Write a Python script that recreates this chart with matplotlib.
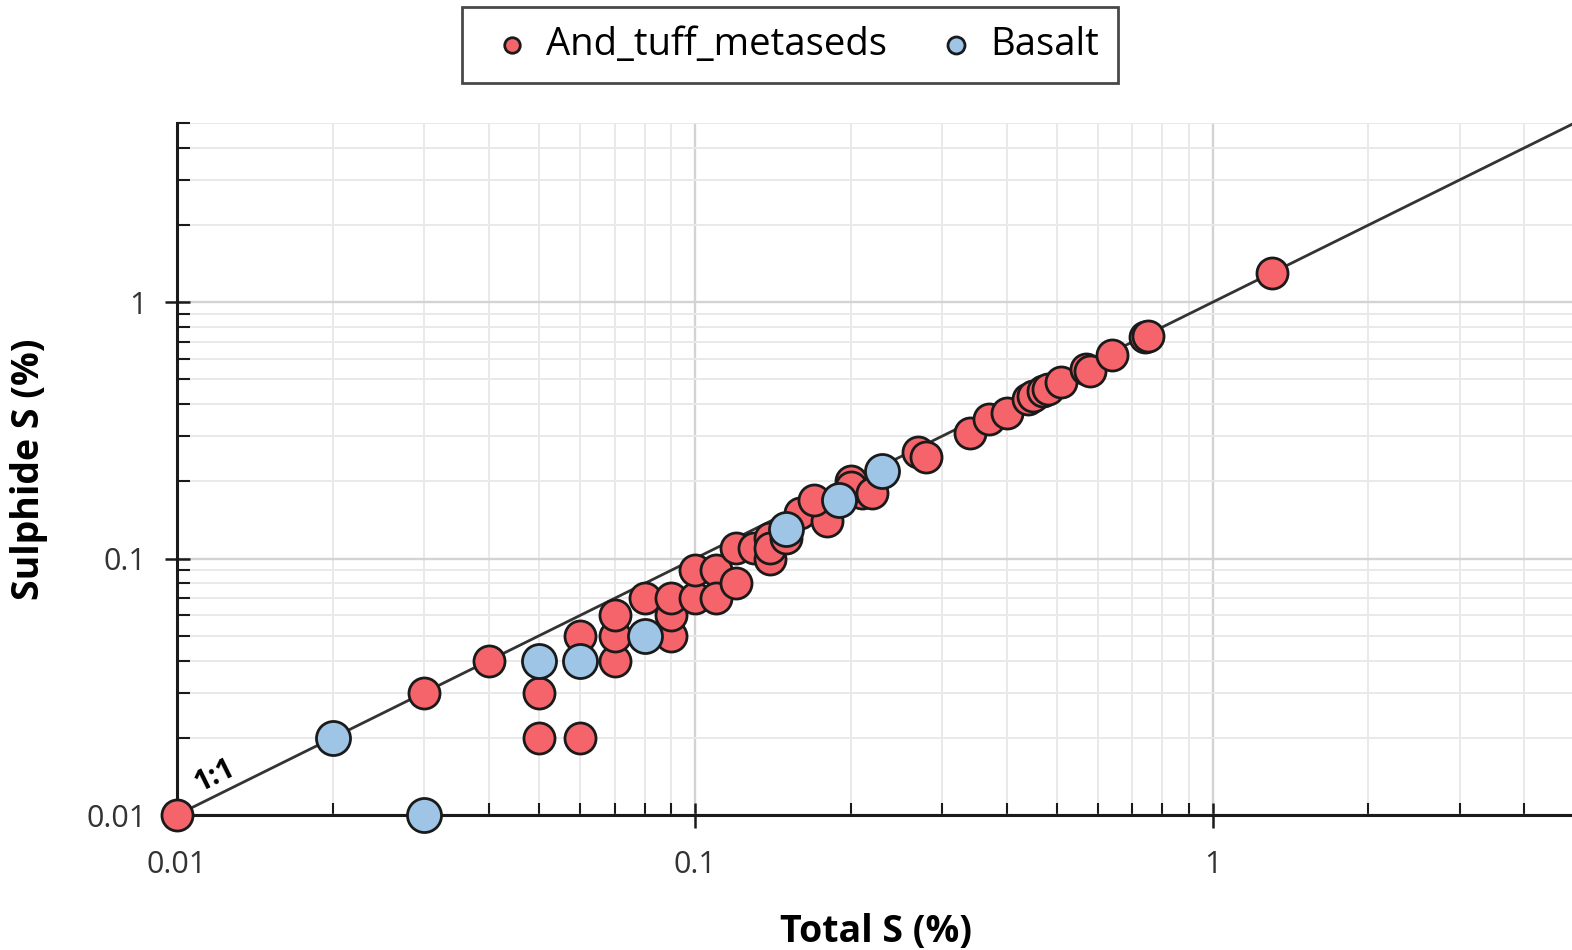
import matplotlib
matplotlib.use('Agg')
import matplotlib.pyplot as plt
from matplotlib.ticker import LogLocator, FixedLocator, FixedFormatter, NullFormatter

plt.rcParams['font.family'] = ['Open Sans', 'DejaVu Sans']

# And_tuff_metaseds: total S vs sulphide S (%)
tuff_total = [0.01, 0.03, 0.04, 0.05, 0.05, 0.06, 0.06, 0.07, 0.07, 0.07,
              0.08, 0.09, 0.09, 0.09, 0.10, 0.10, 0.11, 0.11, 0.12, 0.12,
              0.13, 0.14, 0.14, 0.14, 0.15, 0.16, 0.18, 0.17, 0.20, 0.21,
              0.20, 0.22, 0.27, 0.28, 0.34, 0.37, 0.40, 0.44, 0.45, 0.47,
              0.48, 0.51, 0.57, 0.58, 0.64, 0.74, 0.75, 1.30]
tuff_sulph = [0.01, 0.03, 0.04, 0.03, 0.02, 0.02, 0.05, 0.04, 0.05, 0.06,
              0.07, 0.05, 0.06, 0.07, 0.07, 0.09, 0.09, 0.07, 0.08, 0.11,
              0.11, 0.12, 0.10, 0.11, 0.12, 0.15, 0.14, 0.17, 0.20, 0.18,
              0.19, 0.18, 0.26, 0.25, 0.31, 0.35, 0.37, 0.42, 0.43, 0.45,
              0.46, 0.49, 0.55, 0.54, 0.62, 0.73, 0.74, 1.30]

# Basalt
bas_total = [0.02, 0.03, 0.05, 0.06, 0.08, 0.15, 0.19, 0.23]
bas_sulph = [0.02, 0.01, 0.04, 0.04, 0.05, 0.13, 0.17, 0.22]

ref_line = [0.01, 5]
major_ticks = [0.01, 0.1, 1]
major_labels = ['0.01', '0.1', '1']

red = '#f5646a'
blue = '#9ec4e6'

fig = plt.figure(figsize=(15.72, 9.5), dpi=100)
ax = fig.add_axes([0.1126, 0.1421, 0.889, 0.7284])
ax.set_xscale('log')
ax.set_yscale('log')
ax.set_xlim(0.01, 5)
ax.set_ylim(0.01, 5)

# grid
ax.grid(which='major', color='#d3d3d3', lw=1.7, zorder=0)
ax.grid(which='minor', color='#e9e9e9', lw=1.4, zorder=0)
ax.set_axisbelow(True)

# 1:1 line
ax.plot(ref_line, ref_line, color='#333333', lw=2, zorder=2, clip_on=False)
ax.text(0.0112, 0.0116, '1:1', rotation=26.3, fontsize=21, fontweight='bold',
        ha='left', va='bottom', rotation_mode='anchor', zorder=3)

ax.scatter(tuff_total, tuff_sulph, s=500, c=red, edgecolors='#1a1a1a',
           linewidths=2, zorder=4, clip_on=False, label='And_tuff_metaseds')
ax.scatter(bas_total, bas_sulph, s=600, c=blue, edgecolors='#1a1a1a',
           linewidths=2, zorder=5, clip_on=False, label='Basalt')

for side in ['top', 'right']:
    ax.spines[side].set_visible(False)
for side in ['left', 'bottom']:
    ax.spines[side].set_linewidth(2.2)
    ax.spines[side].set_color('#1a1a1a')

for axis in [ax.xaxis, ax.yaxis]:
    axis.set_major_locator(FixedLocator(major_ticks))
    axis.set_major_formatter(FixedFormatter(major_labels))
    axis.set_minor_locator(LogLocator(base=10, subs=range(2, 10)))
    axis.set_minor_formatter(NullFormatter())

ax.tick_params(which='major', direction='inout', length=18, width=1.8,
               color='#1a1a1a', labelsize=22, labelcolor='#333333')
ax.tick_params(axis='x', which='major', pad=16)
ax.tick_params(axis='y', which='major', pad=13)
ax.tick_params(which='minor', direction='in', length=9, width=1.5, color='#1a1a1a')

ax.set_xlabel('Total S (%)', fontsize=27, fontweight='bold', labelpad=24)
ax.set_ylabel('Sulphide S (%)', fontsize=27, fontweight='bold')
ax.yaxis.set_label_coords(-0.092, 0.5)

leg = fig.legend(loc='center', bbox_to_anchor=(0.5025, 0.953), ncol=2,
                 fontsize=27.5, frameon=True, fancybox=False, edgecolor='#1a1a1a',
                 handletextpad=0.1, columnspacing=1.0, markerscale=0.5,
                 borderpad=0.5, handlelength=1.6)
leg.get_frame().set_linewidth(2)

fig.savefig('out.png', dpi=100)
